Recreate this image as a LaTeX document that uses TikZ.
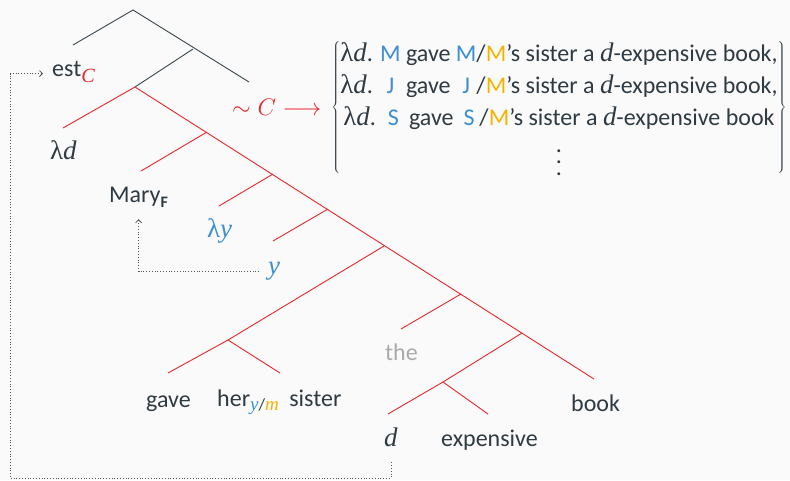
\RequirePackage{fix-cm}
\documentclass[tikz,border=0pt]{standalone}
\usepackage{fontspec}
\setmainfont{Carlito}
\newfontfamily\serif[Scale=1.12]{Liberation Serif}
\usetikzlibrary{arrows.meta}
\definecolor{ink}{HTML}{2E3B42}
\definecolor{branch}{HTML}{37454C}
\definecolor{cred}{HTML}{E8262B}
\definecolor{cblue}{HTML}{3D8FD1}
\definecolor{corange}{HTML}{F5B300}
\definecolor{cgray}{HTML}{AAAAAA}
\definecolor{bgc}{HTML}{FAFAFA}
\newcommand\var[1]{{\serif\itshape #1}}
\newcommand\lam{{\serif λ}}
% lowered subscript: size, drop, content
\newcommand\subs[3]{\raisebox{-#2}{\fontsize{#1}{#1}\selectfont #3}}
% centre a letter in a box as wide as an M
\newcommand\asM[1]{\hbox to \fontcharwd\font`M{\hss#1\hss}}
% tall vertical ellipsis
\newcommand\tallvdots{\lower18pt\vbox{\baselineskip=11.5pt\lineskiplimit=0pt\hbox{.}\hbox{.}\hbox{.}}}
\tikzset{
  lbl/.style={inner sep=0pt, anchor=base west, text=ink, font=\fontsize{24}{28}\selectfont},
  blk/.style={draw=branch, line width=0.9pt},
  red/.style={draw=cred, line width=0.9pt},
  link/.style={draw=ink!85, dotted, line width=0.8pt, -{Straight Barb[length=3pt,width=6pt]}},
}
\begin{document}
\begin{tikzpicture}[x=1pt,y=-1pt]
\fill[bgc] (0,0) rectangle (790,480);
\useasboundingbox (0,0) rectangle (790,480);

% upper (black) part of the tree
\coordinate (r) at (133,10);
\coordinate (rl) at (73,45);
\coordinate (rr) at (249,82);
\coordinate (n1) at (193,49);
\coordinate (n2) at (135,87);
% red subtree: spine and branch points
\coordinate (l1) at (63,128);
\coordinate (s1) at (207,132);
\coordinate (s2) at (273,174);
\coordinate (s3) at (328,209);
\coordinate (s4) at (384,246);
\coordinate (s5) at (461,294);
\coordinate (s6) at (522,333);
\coordinate (send) at (594,379);
\coordinate (e1) at (141,171);
\coordinate (e2) at (219,206);
\coordinate (e3) at (273,241);
\coordinate (v) at (228,340);
\coordinate (gaveE) at (168,373);
\coordinate (sisE) at (280,373);
\coordinate (e5) at (401,329);
\coordinate (a) at (443,382);
\coordinate (dE) at (388,414);
\coordinate (expE) at (488,414);

\draw[blk] (rl) -- (r) -- (rr);
\draw[blk] (n1) -- (n2);
\draw[red] (l1) -- (n2) -- (send);
\draw[red] (s1) -- (e1);
\draw[red] (s2) -- (e2);
\draw[red] (s3) -- (e3);
\draw[red] (s4) -- (v) -- (gaveE);
\draw[red] (v) -- (sisE);
\draw[red] (s5) -- (e5);
\draw[red] (s6) -- (a) -- (dE);
\draw[red] (a) -- (expE);

% labels
\node[lbl] (est) at (52,76) {est\subs{18pt}{6pt}{\textcolor{cred}{\var{C}}}};
\node[lbl, text=cred] (alt) at (232,115) {$\sim C \longrightarrow$};
\node[lbl] (lamd) at (50,159) {\lam\var{d}};
\node[lbl] (mary) at (109,202) {Mary\subs{16pt}{5pt}{\bfseries F}};
\node[lbl, text=cblue] (lamy) at (207,237) {\lam\var{y}};
\node[lbl, text=cblue] (ylab) at (268,274) {\var{y}};
\node[lbl] (gave) at (146,407) {gave};
\node[lbl] (her) at (217,406) {her\subs{17pt}{4pt}{\textcolor{cblue}{\var{y}}/\textcolor{corange}{\var{m}}}\hspace{5pt} sister};
\node[lbl, text=cgray] (the) at (385,360) {the};
\node[lbl] (book) at (571,411) {book};
\node[lbl] (dlab) at (384,446) {\var{d}};
\node[lbl] (exp) at (441,446) {expensive};

% the set of alternatives
\node[inner sep=0pt, text=ink, font=\fontsize{24}{28}\selectfont] (set) at (559,107)
  {\renewcommand\arraystretch{1.143}%
   $\left\{\begin{array}{@{}c@{}}
   \mbox{\lam\var{d}. \textcolor{cblue}{M} gave \textcolor{cblue}{M}/\textcolor{corange}{M}'s sister a \var{d}-expensive book,}\\
   \mbox{\lam\var{d}. \asM{\textcolor{cblue}{J}} gave \asM{\textcolor{cblue}{J}}/\textcolor{corange}{M}'s sister a \var{d}-expensive book,}\\
   \mbox{\lam\var{d}. \asM{\textcolor{cblue}{S}} gave \asM{\textcolor{cblue}{S}}/\textcolor{corange}{M}'s sister a \var{d}-expensive book}\\
   \mbox{\tallvdots}
   \end{array}\right\}$};

% binding links
\coordinate (corner) at (10,478);
\draw[link, shorten <=16pt, shorten >=9pt] (dlab.south) |- (corner) |- (est.mid west);
\draw[link, shorten <=9pt, shorten >=12pt] (ylab.mid west) -| (mary.south);
\end{tikzpicture}
\end{document}
